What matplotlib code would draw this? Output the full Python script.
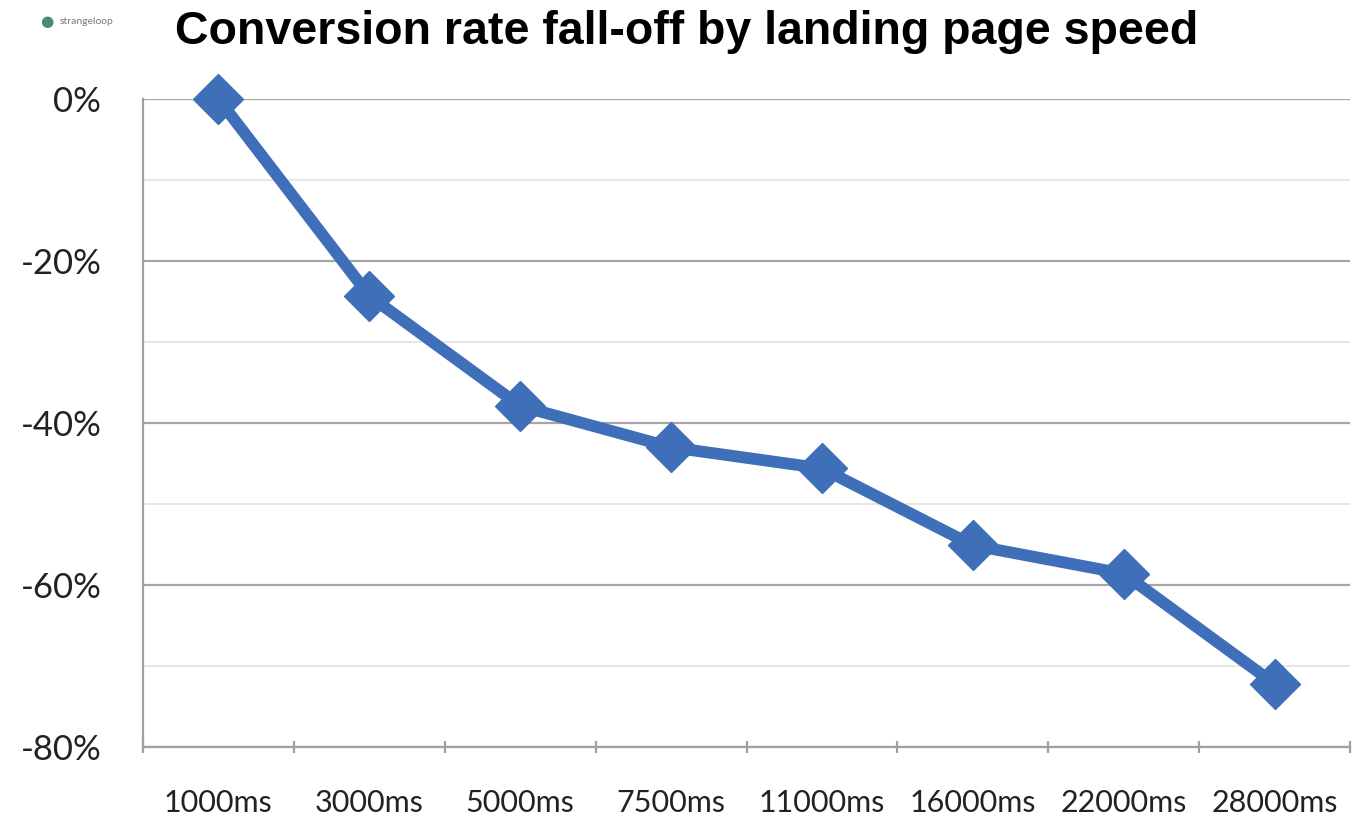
import matplotlib.pyplot as plt
from matplotlib.ticker import FixedLocator, MultipleLocator, FuncFormatter

# data
speeds = ['1000ms', '3000ms', '5000ms', '7500ms', '11000ms', '16000ms', '22000ms', '28000ms']
fall_off = [0, -24.3, -37.9, -43.0, -45.6, -55.1, -58.6, -72.2]

title = 'Conversion rate fall-off by landing page speed'
blue = '#3f6fb8'

fig = plt.figure(figsize=(13.54, 8.18), dpi=100)
ax = fig.add_axes([143 / 1354, 1 - 747 / 818, (1350 - 143) / 1354, (747 - 99) / 818])

x = list(range(len(speeds)))
ax.plot(x, fall_off, color=blue, lw=8.5, marker='D', ms=25.5,
        mec=blue, mfc=blue, clip_on=False, zorder=5)

ax.set_xlim(-0.5, len(speeds) - 0.5)
ax.set_ylim(-80, 0)

# y axis: major at 20%, minor gridlines at 10%
ax.yaxis.set_major_locator(MultipleLocator(20))
ax.yaxis.set_minor_locator(MultipleLocator(10))
ax.yaxis.set_major_formatter(FuncFormatter(lambda v, p: f'{v:.0f}%'))
ax.grid(axis='y', which='major', color='#a6a6a6', lw=1.6)
ax.grid(axis='y', which='minor', color='#e2e2e2', lw=1.2)
ax.tick_params(axis='y', which='both', length=0, pad=30, labelsize=25,
               labelcolor='#222222')

# x axis: labels centred, tick marks between categories
ax.set_xticks(x)
ax.set_xticklabels(speeds)
ax.xaxis.set_minor_locator(FixedLocator([i - 0.5 for i in range(len(speeds) + 1)]))
ax.tick_params(axis='x', which='major', length=0, pad=30, labelsize=22,
               labelcolor='#222222')
ax.tick_params(axis='x', which='minor', length=9, width=1.6, color='#a0a0a0',
               direction='inout')
for lab in ax.get_xticklabels() + ax.get_yticklabels():
    lab.set_family('Lato')

for s in ['top', 'right']:
    ax.spines[s].set_visible(False)
for s in ['left', 'bottom']:
    ax.spines[s].set_color('#a0a0a0')
    ax.spines[s].set_linewidth(1.6)
ax.set_axisbelow(True)

fig.text(175 / 1354, 1 - 32 / 818, title, fontsize=33.5, fontweight='bold',
         family='Liberation Sans', va='center', ha='left')
# small logo at top-left
fig.text(40 / 1354, 1 - 22 / 818, '\u25cf', fontsize=11, color='#4a8a78',
         va='center', ha='left')
fig.text(60 / 1354, 1 - 22 / 818, 'strangeloop', fontsize=7.5, color='#7a7a7a',
         va='center', ha='left', family='Lato')

fig.savefig('out.png', dpi=100)
